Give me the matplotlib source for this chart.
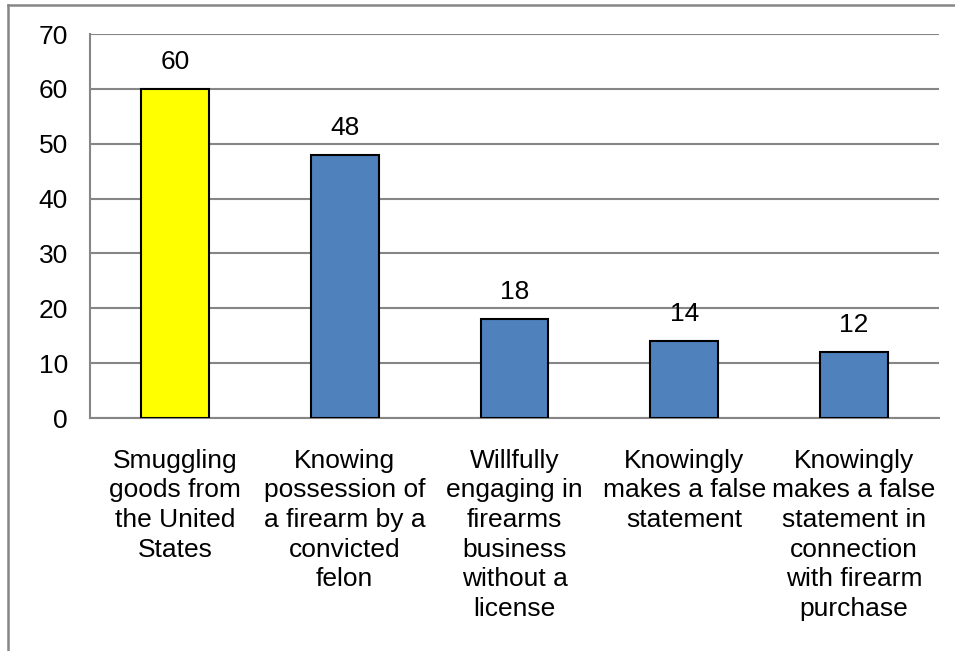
import matplotlib
matplotlib.use("Agg")
import matplotlib.pyplot as plt
from matplotlib.lines import Line2D

categories = [
    "Smuggling\ngoods from\nthe United\nStates",
    "Knowing\npossession of\na firearm by a\nconvicted\nfelon",
    "Willfully\nengaging in\nfirearms\nbusiness\nwithout a\nlicense",
    "Knowingly\nmakes a false\nstatement",
    "Knowingly\nmakes a false\nstatement in\nconnection\nwith firearm\npurchase",
]
values = [60, 48, 18, 14, 12]
colors = ["#FFFF00", "#4F81BD", "#4F81BD", "#4F81BD", "#4F81BD"]
yticks = [0, 10, 20, 30, 40, 50, 60, 70]

plt.rcParams['font.family'] = ['Liberation Sans', 'DejaVu Sans']

W, H = 955, 651
FS = 19
fig = plt.figure(figsize=(W / 100, H / 100), dpi=100)
fig.patch.set_facecolor("white")

# outer frame (left and top visible)
fig.add_artist(Line2D([8 / W, 8 / W], [0, 1 - 5 / H], transform=fig.transFigure, color="#868686", lw=1.8))
fig.add_artist(Line2D([8 / W, 1], [1 - 5 / H, 1 - 5 / H], transform=fig.transFigure, color="#868686", lw=1.8))

ax = fig.add_axes([90 / W, (H - 418) / H, (939 - 90) / W, (418 - 34) / H])
x = list(range(len(values)))
ax.bar(x, values, width=0.4, color=colors, edgecolor="black", linewidth=1.5, zorder=3)
for xi, v in zip(x, values):
    ax.annotate(str(v), xy=(xi, v), xytext=(0, 19.5), textcoords="offset points",
                ha="center", va="center", fontsize=FS, color="black")

ax.set_xlim(-0.5, len(values) - 0.5)
ax.set_ylim(0, 70)
ax.set_yticks(yticks)
ax.set_yticklabels([str(t) for t in yticks], fontsize=FS)
ax.set_xticks(x)
ax.set_xticklabels(categories, fontsize=FS, linespacing=1.3, va="top")
ax.tick_params(axis="x", length=0, pad=22)
ax.tick_params(axis="y", length=0, pad=16)
ax.grid(axis="y", color="#868686", linewidth=1.5, zorder=0)
for s in ["top", "right"]:
    ax.spines[s].set_visible(False)
for s in ["left", "bottom"]:
    ax.spines[s].set_color("#868686")
    ax.spines[s].set_linewidth(1.5)

fig.savefig("out.png", dpi=100)
